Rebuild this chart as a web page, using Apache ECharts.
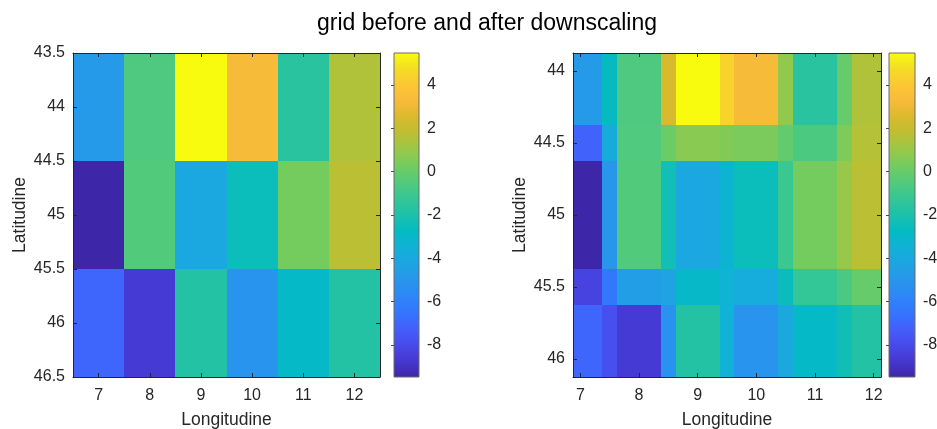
<!DOCTYPE html>
<html>
<head>
<meta charset="utf-8">
<script src="https://cdn.jsdelivr.net/npm/echarts@6/dist/echarts.min.js"></script>
<style>
  html, body { margin: 0; padding: 0; background: #ffffff; }
  #chart { width: 937px; height: 429px; }
</style>
</head>
<body>
<div id="chart"></div>
<script>
// ---- coarse grid (before downscaling): cell centres and values ----
const coarseLon = [7, 8, 9, 10, 11, 12];
const coarseLat = [44, 45, 46];
const coarseValues = [
  [-4.8, -0.6, 5.48, 3.3, -1.6, 1.5],   // lat 44
  [-9.48, -0.5, -4.1, -2.5, 0.3, 1.7],  // lat 45
  [-7.0, -8.6, -1.8, -5.1, -2.9, -1.8]  // lat 46
];

// ---- fine grid (after downscaling): band edges and values ----
const fineLonEdges = [6.875, 7.375, 7.625, 8.375, 8.625, 9.375, 9.625, 10.375, 10.625, 11.375, 11.625, 12.125];
const fineLatEdges = [43.875, 44.375, 44.625, 45.375, 45.625, 46.125];
const fineValues = [
  [-4.8, -2.7, -0.6, 2.44, 5.48, 4.39, 3.3, 0.85, -1.6, -0.05, 1.5],
  [-7.14, -3.85, -0.55, 0.07, 0.69, 0.55, 0.4, -0.12, -0.65, 0.48, 1.6],
  [-9.48, -4.99, -0.5, -2.3, -4.1, -3.3, -2.5, -1.1, 0.3, 1.0, 1.7],
  [-8.24, -6.4, -4.55, -4.3, -2.95, -3.38, -3.8, -2.55, -1.3, -0.68, -0.05],
  [-7.0, -7.8, -8.6, -5.2, -1.8, -3.45, -5.1, -4.0, -2.9, -2.35, -1.8]
];

// ---- tick labels ----
const lonTicks = [7, 8, 9, 10, 11, 12];
const coarseLatTicks = [43.5, 44, 44.5, 45, 45.5, 46, 46.5];
const fineLatTicks = [44, 44.5, 45, 45.5, 46];
const colorTicks = [-8, -6, -4, -2, 0, 2, 4];

// parula-like colour ramp
const parula = [
  '#3e26a8', '#4537cf', '#484aeb', '#435ffb', '#3475fe', '#2e87f7',
  '#2796eb', '#1ea4e2', '#11b1d6', '#03bbc3', '#1cc1aa', '#35c695',
  '#52ca7c', '#72cc60', '#98c849', '#bcbf32', '#d9ba2d', '#f7ba3b',
  '#fcc735', '#f3dd25', '#f9fb0e'
];

const allVals = coarseValues.flat();
const cMin = Math.min(...allVals);
const cMax = Math.max(...allVals);

// rows of [x0, x1, y0, y1, value]
const coarseData = [];
coarseLat.forEach((lat, r) => {
  coarseLon.forEach((lon, c) => {
    coarseData.push([lon - 0.5, lon + 0.5, lat - 0.5, lat + 0.5, coarseValues[r][c]]);
  });
});
const fineData = [];
for (let r = 0; r < fineLatEdges.length - 1; r++) {
  for (let c = 0; c < fineLonEdges.length - 1; c++) {
    fineData.push([fineLonEdges[c], fineLonEdges[c + 1], fineLatEdges[r], fineLatEdges[r + 1], fineValues[r][c]]);
  }
}

function renderCell(params, api) {
  const p0 = api.coord([api.value(0), api.value(2)]);
  const p1 = api.coord([api.value(1), api.value(3)]);
  const xa = Math.round(Math.min(p0[0], p1[0]));
  const xb = Math.round(Math.max(p0[0], p1[0]));
  const ya = Math.round(Math.min(p0[1], p1[1]));
  const yb = Math.round(Math.max(p0[1], p1[1]));
  return {
    type: 'rect',
    shape: { x: xa, y: ya, width: xb - xa, height: yb - ya },
    style: { fill: api.visual('color') }
  };
}

const rampGradient = {
  type: 'linear', x: 0, y: 1, x2: 0, y2: 0,
  colorStops: parula.map((c, i) => ({ offset: i / (parula.length - 1), color: c }))
};

function renderBar(params, api) {
  const p0 = api.coord([0, api.value(0)]);
  const p1 = api.coord([1, api.value(1)]);
  return {
    type: 'rect',
    shape: { x: p0[0], y: p1[1], width: p1[0] - p0[0], height: p0[1] - p1[1] },
    style: { fill: rampGradient, stroke: '#6b6b6b', lineWidth: 1 }
  };
}

const FONT = 'Liberation Sans, Arial, Helvetica, sans-serif';
const INK = '#262626';

const grids = [
  { left: 73, top: 53, width: 307, height: 324 },   // coarse map
  { left: 394, top: 53, width: 25, height: 324 },   // coarse colour bar
  { left: 573, top: 53, width: 308, height: 324 },  // fine map
  { left: 889, top: 53, width: 26, height: 324 }    // fine colour bar
].map(g => Object.assign({ containLabel: false, outerBoundsMode: 'none' }, g));

function mapX(gridIndex, min, max, position, withLabels) {
  return {
    type: 'value', gridIndex, min, max, position, z: 10,
    name: withLabels ? 'Longitudine' : '',
    nameLocation: 'middle', nameGap: 34,
    nameTextStyle: { fontFamily: FONT, fontSize: 17.5, color: INK },
    axisLine: { show: true, onZero: false, lineStyle: { color: INK, width: 1 } },
    axisTick: { show: true, inside: true, length: 4, customValues: lonTicks, lineStyle: { color: INK } },
    axisLabel: { show: withLabels, customValues: lonTicks, margin: 11, fontFamily: FONT, fontSize: 16, color: INK },
    splitLine: { show: false }
  };
}
function mapY(gridIndex, min, max, position, ticks, withLabels) {
  return {
    type: 'value', gridIndex, min, max, position, inverse: true, z: 10,
    name: withLabels ? 'Latitudine' : '',
    nameLocation: 'middle', nameGap: 44, nameRotate: 90,
    nameTextStyle: { fontFamily: FONT, fontSize: 17.5, color: INK },
    axisLine: { show: true, onZero: false, lineStyle: { color: INK, width: 1 } },
    axisTick: { show: true, inside: true, length: 4, customValues: ticks, lineStyle: { color: INK } },
    axisLabel: { show: withLabels, customValues: ticks, margin: 8, fontFamily: FONT, fontSize: 16, color: INK },
    splitLine: { show: false }
  };
}
function barX(gridIndex) {
  return { type: 'value', gridIndex, min: 0, max: 1, show: false };
}
function barY(gridIndex) {
  return {
    type: 'value', gridIndex, min: cMin, max: cMax, position: 'right', z: 10,
    axisLine: { show: false },
    axisTick: { show: true, inside: true, length: 3, customValues: colorTicks, lineStyle: { color: '#4a4a4a' } },
    axisLabel: { customValues: colorTicks, margin: 8, fontFamily: FONT, fontSize: 16, color: INK },
    splitLine: { show: false }
  };
}

const option = {
  backgroundColor: '#ffffff',
  animation: false,
  title: {
    text: 'grid before and after downscaling',
    left: 482, top: 7, textAlign: 'center',
    textStyle: { fontFamily: FONT, fontSize: 23, fontWeight: 'normal', color: '#000000' }
  },
  grid: grids,
  xAxis: [
    mapX(0, 6.5, 12.5, 'bottom', true),
    mapX(0, 6.5, 12.5, 'top', false),
    barX(1),
    mapX(2, 6.875, 12.125, 'bottom', true),
    mapX(2, 6.875, 12.125, 'top', false),
    barX(3)
  ],
  yAxis: [
    mapY(0, 43.5, 46.5, 'left', coarseLatTicks, true),
    mapY(0, 43.5, 46.5, 'right', coarseLatTicks, false),
    barY(1),
    mapY(2, 43.875, 46.125, 'left', fineLatTicks, true),
    mapY(2, 43.875, 46.125, 'right', fineLatTicks, false),
    barY(3)
  ],
  visualMap: {
    type: 'continuous', show: false, min: cMin, max: cMax,
    dimension: 4, seriesIndex: [0, 1],
    inRange: { color: parula }
  },
  series: [
    {
      type: 'custom', name: 'before', xAxisIndex: 0, yAxisIndex: 0,
      renderItem: renderCell, encode: { x: [0, 1], y: [2, 3] }, data: coarseData
    },
    {
      type: 'custom', name: 'after', xAxisIndex: 3, yAxisIndex: 3,
      renderItem: renderCell, encode: { x: [0, 1], y: [2, 3] }, data: fineData
    },
    {
      type: 'custom', name: 'scaleBefore', xAxisIndex: 2, yAxisIndex: 2,
      renderItem: renderBar, encode: { y: [0, 1] }, data: [[cMin, cMax]]
    },
    {
      type: 'custom', name: 'scaleAfter', xAxisIndex: 5, yAxisIndex: 5,
      renderItem: renderBar, encode: { y: [0, 1] }, data: [[cMin, cMax]]
    }
  ]
};

const chart = echarts.init(document.getElementById('chart'), null, { renderer: 'canvas' });
chart.setOption(option);
</script>
</body>
</html>
